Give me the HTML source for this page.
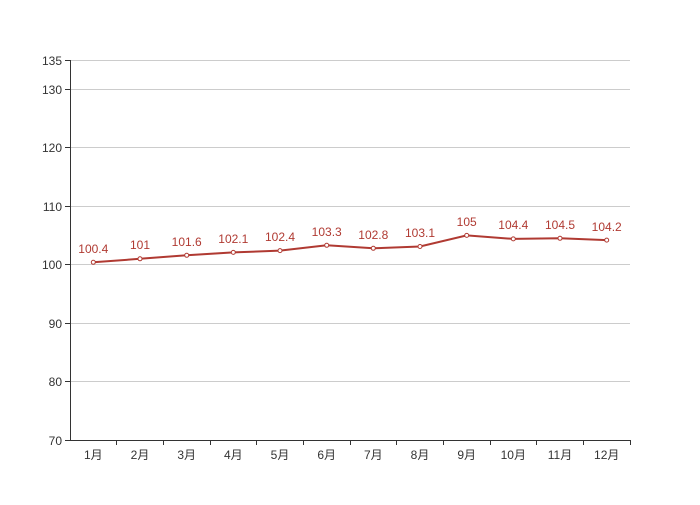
<!DOCTYPE html>
<html><head><meta charset="utf-8"><style>body{margin:0;background:#fff}text{font-family:"Liberation Sans","Noto Sans CJK SC",sans-serif;font-size:12px}</style></head>
<body>
<svg width="700" height="500" xmlns="http://www.w3.org/2000/svg">
<g stroke="#ccc" stroke-width="1">
<line x1="70" x2="630" y1="60.5" y2="60.5"/>
<line x1="70" x2="630" y1="89.5" y2="89.5"/>
<line x1="70" x2="630" y1="147.5" y2="147.5"/>
<line x1="70" x2="630" y1="206.5" y2="206.5"/>
<line x1="70" x2="630" y1="264.5" y2="264.5"/>
<line x1="70" x2="630" y1="323.5" y2="323.5"/>
<line x1="70" x2="630" y1="381.5" y2="381.5"/>
</g>
<g stroke="#333" stroke-width="1">
<line x1="70.5" x2="70.5" y1="60" y2="440"/>
<line x1="70" x2="631" y1="440.5" y2="440.5"/>
<line x1="65" x2="70" y1="60.5" y2="60.5"/><line x1="65" x2="70" y1="89.5" y2="89.5"/><line x1="65" x2="70" y1="147.5" y2="147.5"/><line x1="65" x2="70" y1="206.5" y2="206.5"/><line x1="65" x2="70" y1="264.5" y2="264.5"/><line x1="65" x2="70" y1="323.5" y2="323.5"/><line x1="65" x2="70" y1="381.5" y2="381.5"/><line x1="65" x2="70" y1="440.5" y2="440.5"/>
<line x1="116.5" x2="116.5" y1="440" y2="445"/><line x1="163.5" x2="163.5" y1="440" y2="445"/><line x1="210.5" x2="210.5" y1="440" y2="445"/><line x1="256.5" x2="256.5" y1="440" y2="445"/><line x1="303.5" x2="303.5" y1="440" y2="445"/><line x1="350.5" x2="350.5" y1="440" y2="445"/><line x1="396.5" x2="396.5" y1="440" y2="445"/><line x1="443.5" x2="443.5" y1="440" y2="445"/><line x1="490.5" x2="490.5" y1="440" y2="445"/><line x1="536.5" x2="536.5" y1="440" y2="445"/><line x1="583.5" x2="583.5" y1="440" y2="445"/><line x1="630.5" x2="630.5" y1="440" y2="445"/>
</g>
<g fill="#333" text-anchor="end">
<text x="62" y="65">135</text><text x="62" y="94">130</text><text x="62" y="152">120</text><text x="62" y="211">110</text><text x="62" y="269">100</text><text x="62" y="328">90</text><text x="62" y="386">80</text><text x="62" y="445">70</text>
</g>
<g fill="#333" text-anchor="middle">
<text x="93.3" y="459">1月</text><text x="140" y="459">2月</text><text x="186.7" y="459">3月</text><text x="233.3" y="459">4月</text><text x="280" y="459">5月</text><text x="326.7" y="459">6月</text><text x="373.3" y="459">7月</text><text x="420" y="459">8月</text><text x="466.7" y="459">9月</text><text x="513.3" y="459">10月</text><text x="560" y="459">11月</text><text x="606.7" y="459">12月</text>
</g>
<polyline fill="none" stroke="#b03a32" stroke-width="2" points="93.3,262.3 140,258.8 186.7,255.3 233.3,252.4 280,250.6 326.7,245.3 373.3,248.3 420,246.5 466.7,235.4 513.3,238.9 560,238.3 606.7,240.1"/>
<g fill="#fff" stroke="#b03a32" stroke-width="1">
<circle cx="93.3" cy="262.3" r="2"/><circle cx="140" cy="258.8" r="2"/><circle cx="186.7" cy="255.3" r="2"/><circle cx="233.3" cy="252.4" r="2"/><circle cx="280" cy="250.6" r="2"/><circle cx="326.7" cy="245.3" r="2"/><circle cx="373.3" cy="248.3" r="2"/><circle cx="420" cy="246.5" r="2"/><circle cx="466.7" cy="235.4" r="2"/><circle cx="513.3" cy="238.9" r="2"/><circle cx="560" cy="238.3" r="2"/><circle cx="606.7" cy="240.1" r="2"/>
</g>
<g fill="#b03a32" text-anchor="middle">
<text x="93.3" y="253">100.4</text><text x="140" y="249">101</text><text x="186.7" y="246">101.6</text><text x="233.3" y="243">102.1</text><text x="280" y="241">102.4</text><text x="326.7" y="236">103.3</text><text x="373.3" y="239">102.8</text><text x="420" y="237">103.1</text><text x="466.7" y="226">105</text><text x="513.3" y="229">104.4</text><text x="560" y="229">104.5</text><text x="606.7" y="231">104.2</text>
</g>
</svg>
</body></html>
